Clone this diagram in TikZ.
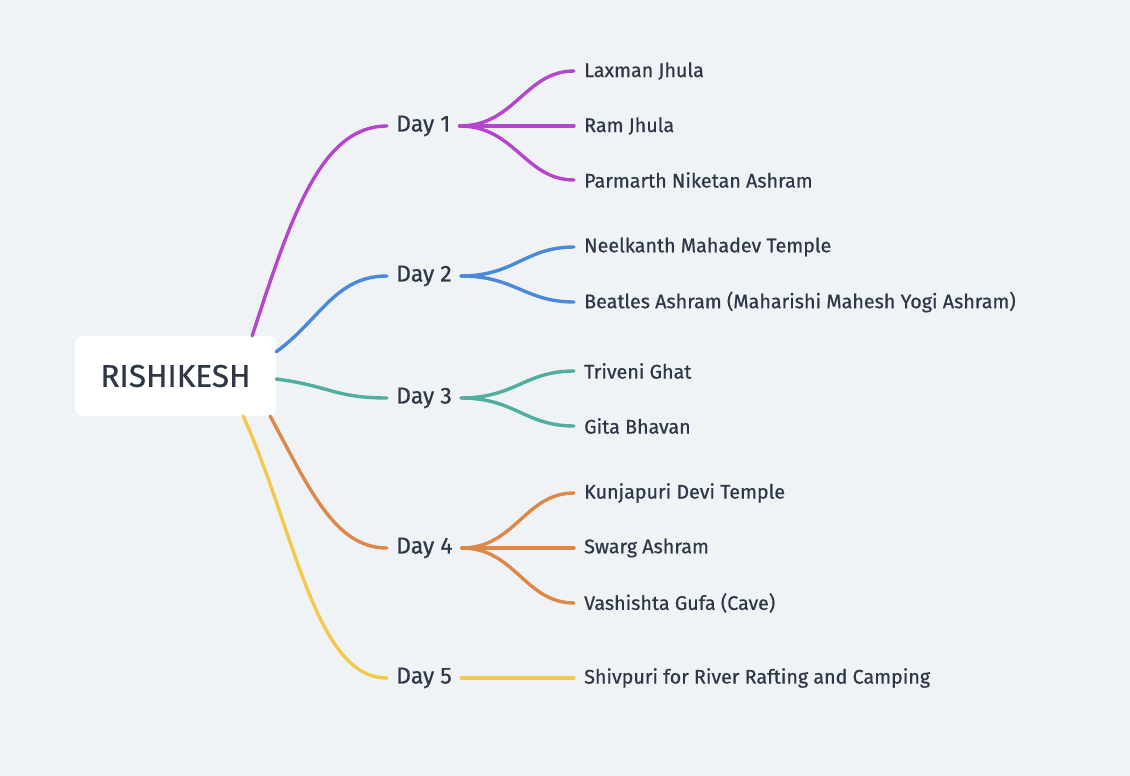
\documentclass[tikz,border=0pt]{standalone}
\usepackage{fontspec}
\setmainfont{Fira Sans}[FakeBold=0.6]
\usetikzlibrary{positioning,calc}
\usepackage{xcolor}
\definecolor{bgcol}{HTML}{F0F3F6}
\definecolor{txtcol}{HTML}{2D3748}
\definecolor{c1}{HTML}{B545CC}
\definecolor{c2}{HTML}{4A88DA}
\definecolor{c3}{HTML}{50AE9F}
\definecolor{c4}{HTML}{DD8748}
\definecolor{c5}{HTML}{F2C94C}

\begin{document}
\begin{tikzpicture}[
            x=1pt, y=-1pt,
            rootbox/.style={rectangle, fill=white, rounded corners=7pt, minimum width=201pt, minimum height=80pt, text=txtcol, font=\fontsize{31.5}{34}\selectfont},
            day/.style={anchor=west, inner xsep=9pt, inner ysep=2pt, text=txtcol, font=\fontsize{23}{26}\selectfont},
            leaf/.style={anchor=west, inner xsep=10pt, inner ysep=2pt, text=txtcol, font=\fontsize{19.7}{23}\selectfont},
            branch/.style={line width=3.4pt, line cap=round}
        ]
            \fill[bgcol] (0,0) rectangle (1130,776);
            
            % Root
            \node[rootbox] (root) at (175.5,376) {RISHIKESH\hspace{5pt}};
            
            % Days
            \node[day] (d1) at (387,126) {Day 1};
            \node[day] (d2) at (387,276) {Day 2};
            \node[day] (d3) at (387,398) {Day 3};
            \node[day] (d4) at (387,548) {Day 4};
            \node[day] (d5) at (387,678) {Day 5};
            
            % Places
            \node[leaf] (l11) at (574,71) {Laxman Jhula};
            \node[leaf] (l12) at (574,126) {Ram Jhula};
            \node[leaf] (l13) at (574,180) {Parmarth Niketan Ashram};
            \node[leaf] (l21) at (574,247) {Neelkanth Mahadev Temple};
            \node[leaf] (l22) at (574,302) {Beatles Ashram (Maharishi Mahesh Yogi Ashram)};
            \node[leaf] (l31) at (574,371) {Triveni Ghat};
            \node[leaf] (l32) at (574,426) {Gita Bhavan};
            \node[leaf] (l41) at (574,493) {Kunjapuri Devi Temple};
            \node[leaf] (l42) at (574,548) {Swarg Ashram};
            \node[leaf] (l43) at (574,603) {Vashishta Gufa (Cave)};
            \node[leaf] (l51) at (574,678) {Shivpuri for River Rafting and Camping};
            
            % Root to days
            \draw[branch, c1] ($(root.north east)+(-24,0)$) .. controls (290,220) and (320,126) .. (d1.west);
            \draw[branch, c2] ($(root.north east)+(0,16)$) .. controls (320,320) and (335,276) .. (d2.west);
            \draw[branch, c3] ($(root.east)+(0,3)$) .. controls (330,386) and (335,398) .. (d3.west);
            \draw[branch, c4] ($(root.south east)+(-6,0)$) .. controls (310,490) and (335,548) .. (d4.west);
            \draw[branch, c5] ($(root.south east)+(-33,0)$) .. controls (295,530) and (315,678) .. (d5.west);
            
            % Days to places
            \foreach \d/\l in {d1/l11, d1/l12, d1/l13}
              \draw[branch, c1] (\d.east) .. controls (515,0 |- \d.east) and (525,0 |- \l.west) .. (\l.west);
            \foreach \d/\l in {d2/l21, d2/l22}
              \draw[branch, c2] (\d.east) .. controls (515,0 |- \d.east) and (525,0 |- \l.west) .. (\l.west);
            \foreach \d/\l in {d3/l31, d3/l32}
              \draw[branch, c3] (\d.east) .. controls (515,0 |- \d.east) and (525,0 |- \l.west) .. (\l.west);
            \foreach \d/\l in {d4/l41, d4/l42, d4/l43}
              \draw[branch, c4] (\d.east) .. controls (515,0 |- \d.east) and (525,0 |- \l.west) .. (\l.west);
            \draw[branch, c5] (d5.east) -- (l51.west);
        \end{tikzpicture}
\end{document}
